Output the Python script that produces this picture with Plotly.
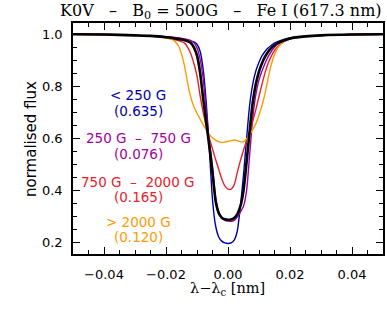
import plotly.graph_objects as go

# wavelength offset grid (nm)
wl = [-0.05, -0.04, -0.03, -0.025, -0.02, -0.018, -0.016, -0.015, -0.014, -0.013,
      -0.012, -0.011, -0.010, -0.009, -0.008, -0.007, -0.006, -0.005, -0.004, -0.003,
      -0.002, -0.001, 0.0, 0.001, 0.002, 0.003, 0.004, 0.005, 0.006, 0.007,
      0.008, 0.009, 0.010, 0.011, 0.012, 0.013, 0.014, 0.015, 0.016, 0.018,
      0.020, 0.025, 0.03, 0.04, 0.05]

flux_weak = [1.000, 0.999, 0.997, 0.995, 0.991, 0.988, 0.985, 0.983, 0.981, 0.978,
             0.975, 0.971, 0.962, 0.935, 0.865, 0.735, 0.555, 0.365, 0.265, 0.222,
             0.206, 0.199, 0.197, 0.199, 0.210, 0.245, 0.340, 0.460, 0.600, 0.730,
             0.810, 0.860, 0.893, 0.918, 0.935, 0.948, 0.958, 0.966, 0.972, 0.980,
             0.986, 0.993, 0.996, 0.999, 1.000]

flux_mid = [1.000, 0.999, 0.997, 0.995, 0.991, 0.989, 0.986, 0.984, 0.982, 0.979,
            0.975, 0.968, 0.948, 0.905, 0.830, 0.700, 0.590, 0.493, 0.375, 0.318,
            0.295, 0.286, 0.283, 0.282, 0.286, 0.298, 0.318, 0.340, 0.400, 0.540,
            0.680, 0.770, 0.825, 0.860, 0.890, 0.915, 0.935, 0.950, 0.962, 0.974,
            0.983, 0.992, 0.996, 0.999, 1.000]

flux_strong = [1.000, 0.999, 0.996, 0.993, 0.987, 0.982, 0.976, 0.972, 0.966, 0.950,
               0.925, 0.888, 0.840, 0.765, 0.700, 0.645, 0.600, 0.560, 0.520, 0.482,
               0.445, 0.418, 0.406, 0.406, 0.422, 0.470, 0.515, 0.555, 0.592, 0.628,
               0.668, 0.712, 0.762, 0.810, 0.855, 0.890, 0.917, 0.937, 0.952, 0.972,
               0.982, 0.991, 0.995, 0.999, 1.000]

flux_vstrong = [1.000, 0.999, 0.996, 0.993, 0.986, 0.980, 0.957, 0.925, 0.877, 0.812,
                0.758, 0.722, 0.697, 0.675, 0.653, 0.633, 0.616, 0.603, 0.594, 0.588,
                0.585, 0.586, 0.589, 0.592, 0.594, 0.592, 0.587, 0.588, 0.598, 0.615,
                0.635, 0.657, 0.690, 0.728, 0.775, 0.835, 0.885, 0.922, 0.948, 0.974,
                0.984, 0.991, 0.995, 0.999, 1.000]

flux_mean = [1.000, 0.999, 0.996, 0.994, 0.989, 0.986, 0.982, 0.980, 0.977, 0.973,
             0.967, 0.950, 0.918, 0.853, 0.752, 0.660, 0.568, 0.468, 0.360, 0.314,
             0.296, 0.290, 0.288, 0.289, 0.295, 0.310, 0.340, 0.400, 0.510, 0.630,
             0.740, 0.810, 0.857, 0.890, 0.915, 0.934, 0.948, 0.958, 0.966, 0.976,
             0.984, 0.992, 0.996, 0.999, 1.000]

bins = ["< 250 G", "250 G \u2013 750 G", "750 G \u2013 2000 G", "> 2000 G"]
fractions = [0.635, 0.076, 0.165, 0.120]
series = [flux_weak, flux_mid, flux_strong, flux_vstrong]

GAP = "\u00a0\u00a0\u00a0"
title_text = ("K0V" + GAP + "\u2013" + GAP + "B<sub>0</sub> = 500G" + GAP + "\u2013" + GAP +
              "Fe I (617.3 nm)")

colors = ["#0000A8", "#A000A0", "#E8202A", "#FF9A00"]

# ---- geometry (page pixels) ----
W, H = 387, 309
PL, PR, PT, PB = 73, 383, 23, 254          # plot box
L, R, T, B = PL, W - PR, PT, H - PB

def px_to_paper_x(px):
    return (px - PL) / (PR - PL)

def px_to_paper_y(py):
    return 1 - (py - PT) / (PB - PT)

YR = [0.1566, 1.0434]

label_x_px = 138
line1_px = [95, 138.3, 182.3, 221.7]
line2_px = [111, 154.3, 197.0, 237.3]

fig = go.Figure()
for ys, c in zip(series, colors):
    fig.add_trace(go.Scatter(x=wl, y=ys, mode="lines",
                             line=dict(color=c, width=1.4, shape="spline", smoothing=0.6),
                             showlegend=False, hoverinfo="skip"))
fig.add_trace(go.Scatter(x=wl, y=flux_mean, mode="lines",
                         line=dict(color="black", width=2.6, shape="spline", smoothing=0.6),
                         showlegend=False, hoverinfo="skip"))

ann = []
lab_font = "DejaVu Sans"
for b, fr, c, p1, p2 in zip(bins, fractions, colors, line1_px, line2_px):
    b_txt = b.replace(" \u2013 ", "\u00a0\u00a0\u2013\u00a0\u00a0")
    ann.append(dict(x=px_to_paper_x(label_x_px), y=px_to_paper_y(p1), xref="paper", yref="paper",
                    text=b_txt, showarrow=False, xanchor="center", yanchor="middle",
                    font=dict(family=lab_font, size=13.5, color=c)))
    ann.append(dict(x=px_to_paper_x(label_x_px), y=px_to_paper_y(p2), xref="paper", yref="paper",
                    text="(%.3f)" % fr, showarrow=False, xanchor="center", yanchor="middle",
                    font=dict(family=lab_font, size=13.5, color=c)))

# title: left-aligned box running to the page edge, so the tail is clipped as in the original
title_left_px = 58
ann.append(dict(x=px_to_paper_x(title_left_px), y=px_to_paper_y(11.5), xref="paper", yref="paper",
                text=title_text, showarrow=False, xanchor="left", yanchor="middle",
                width=W - title_left_px - 2, align="left",
                font=dict(family="DejaVu Serif", size=16, color="black")))

# axis titles
ann.append(dict(x=px_to_paper_x(227), y=px_to_paper_y(289), xref="paper", yref="paper",
                text="\u03bb\u2212\u03bb<sub>c</sub> [nm]", showarrow=False,
                xanchor="center", yanchor="middle",
                font=dict(family="DejaVu Serif", size=14.5, color="black")))
ann.append(dict(x=px_to_paper_x(31), y=px_to_paper_y(139), xref="paper", yref="paper",
                text="normalised flux", textangle=-90, showarrow=False,
                xanchor="center", yanchor="middle",
                font=dict(family="DejaVu Sans", size=15, color="black")))

axis_common = dict(showline=True, linecolor="black", linewidth=1.5, mirror="allticks",
                   ticks="inside", ticklen=7, tickwidth=1.2, tickcolor="black",
                   showgrid=False, zeroline=False, automargin=False,
                   tickfont=dict(family="DejaVu Sans", size=13, color="black"))

fig.update_layout(
    width=W, height=H,
    margin=dict(l=L, r=R, t=T, b=B, pad=0, autoexpand=False),
    paper_bgcolor="white", plot_bgcolor="white",
    annotations=ann,
    xaxis=dict(range=[-0.05, 0.05], tickvals=[-0.04, -0.02, 0.0, 0.02, 0.04],
               ticktext=["\u22120.04", "\u22120.02", "0.00", "0.02", "0.04"],
               minor=dict(dtick=0.005, tick0=0, ticks="inside", ticklen=4, tickwidth=1, tickcolor="black"),
               ticklabelstandoff=8, **axis_common),
    yaxis=dict(range=YR, tickvals=[0.2, 0.4, 0.6, 0.8, 1.0],
               ticktext=["0.2", "0.4", "0.6", "0.8", "1.0"],
               minor=dict(dtick=0.05, tick0=0, ticks="inside", ticklen=4, tickwidth=1, tickcolor="black"),
               ticklabelstandoff=6, **axis_common),
)

fig.write_html("out.html", config={"displayModeBar": False},
               post_script="document.body.style.margin='0px';document.body.style.overflow='hidden';")
